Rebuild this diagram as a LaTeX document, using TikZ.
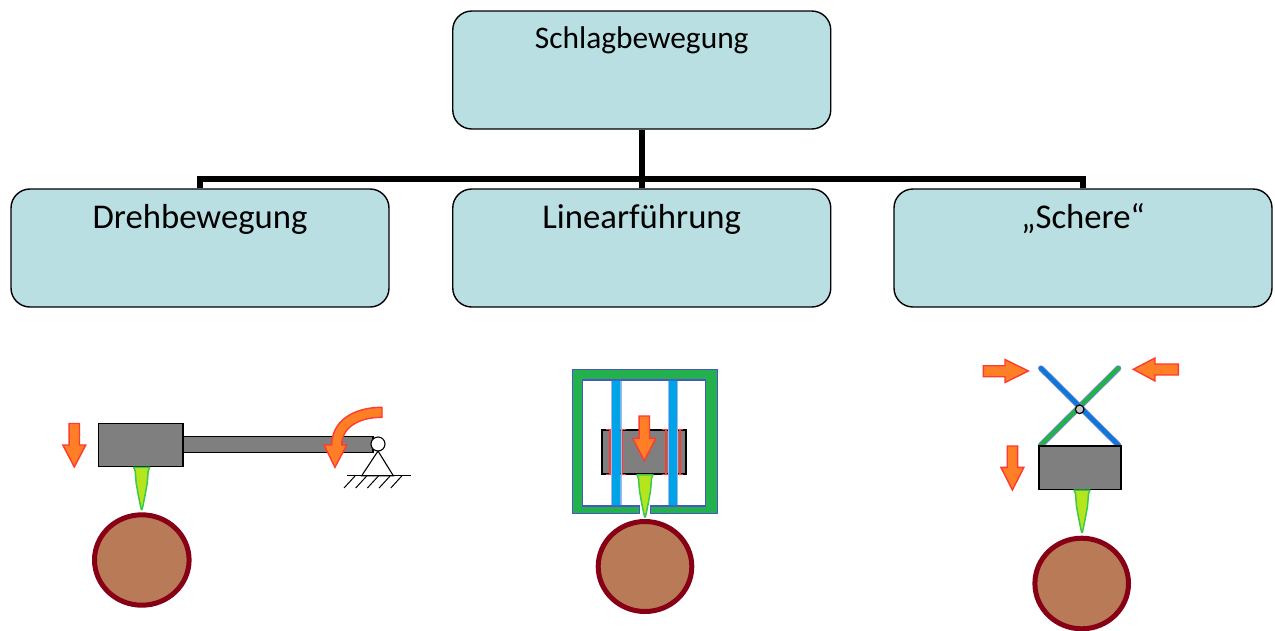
\documentclass[tikz,border=0pt]{standalone}
\usepackage{fontspec}
\setmainfont{Carlito}
\definecolor{boxfill}{HTML}{B9DFE3}
\definecolor{arrowfill}{HTML}{FF7F27}
\definecolor{arrowline}{HTML}{FF3A30}
\definecolor{blockgray}{HTML}{7F7F7F}
\definecolor{tipfill}{HTML}{B5E61D}
\definecolor{tipline}{HTML}{3CC84C}
\definecolor{logfill}{HTML}{B97A57}
\definecolor{logline}{HTML}{880015}
\definecolor{framegreen}{HTML}{22B14C}
\definecolor{frameblue}{HTML}{4A55C8}
\definecolor{rodblue}{HTML}{00A2E8}
\definecolor{armblue}{HTML}{0E78D8}
\tikzset{
  box/.style={draw=black,line width=1.4pt,fill=boxfill,rounded corners=19pt,inner sep=0pt,
    minimum width=378pt,minimum height=118pt,text width=370pt,align=center},
  toplabel/.style={box,font=\fontsize{31.4}{36}\selectfont,text height=37pt,text depth=81pt},
  rowlabel/.style={box,font=\fontsize{34.7}{40}\selectfont,text height=39.5pt,text depth=78.5pt},
  conn/.style={draw=black,line width=6pt,line join=miter},
  redarrow/.style={draw=arrowline,fill=arrowfill,line width=1.4pt,line join=miter},
  block/.style={draw=black,fill=blockgray,line width=1.4pt},
  log/.style={draw=logline,fill=logfill,line width=5pt},
  tip/.style={draw=tipline,fill=tipfill,line width=1.5pt,line join=round},
  hinge/.style={draw=black,line width=1.1pt}
}
% Tool tip hanging from a block: #1 centre x, #2 top y
\newcommand{\tooltip}[2]{%
  \draw[tip] (#1-8,#2+0.8) -- (#1+8,#2+0.8) -- (#1+6.5,#2+4.5) -- (#1+5.5,#2+17) -- (#1+3.5,#2+28)
    -- (#1+1.5,#2+38) -- (#1+0.4,#2+43) -- (#1-0.4,#2+43) -- (#1-1.5,#2+38) -- (#1-3.5,#2+28)
    -- (#1-5.5,#2+17) -- (#1-6.5,#2+4.5) -- cycle;}
% Straight downward arrow: #1 centre x, #2 tail y, #3 head base y, #4 tip y
\newcommand{\strokearrow}[4]{%
  \draw[redarrow] (#1-5.2,#2) -- (#1+5.2,#2) -- (#1+5.2,#3) -- (#1+11.5,#3) -- (#1,#4)
    -- (#1-11.5,#3) -- (#1-5.2,#3) -- cycle;}
\begin{document}
\begin{tikzpicture}[x=1pt,y=-1pt]
\useasboundingbox (0,0) rectangle (1275,630);

% Hierarchy boxes
\node[toplabel] (top) at (641.75,70) {Schlagbewegung};
\node[rowlabel] (left) at (200,248) {Drehbewegung};
\node[rowlabel] (mid) at (641.75,248) {Linearführung};
\node[rowlabel] (right) at (1083,248) {„Schere“};

% Tree connectors
\coordinate (busL) at (left.north |- 0,179);
\coordinate (busR) at (right.north |- 0,179);
\draw[conn] (top.south) -- (mid.north);
\draw[conn] (left.north) -- (busL) -- (busR) -- (right.north);

% Rotary hammer
\draw[block] (183,436.7) rectangle (373,452.7);
\draw[block] (98.5,423.5) rectangle (183,466.5);
\tooltip{141.7}{466.5}
\draw[log] (141.8,560) ellipse [x radius=47.3,y radius=45.2];
\strokearrow{74.3}{423.5}{445}{467}
\draw[hinge,fill=white] (378,451) -- (361.7,475.7) -- (393.3,475.7) -- cycle;
\draw[hinge,fill=white] (378,444) circle (7);
\draw[hinge] (347,475.7) -- (411,475.7);
\foreach \i in {0,...,4}
  \draw[line width=1pt] (355+11.7*\i,476) -- (344+11.7*\i,488);
\draw[redarrow] (382,407.3) .. controls (352,407.3) and (331.7,422) .. (331.7,445) -- (324,445)
  -- (335,467.3) -- (346.7,445) -- (341.7,445)
  .. controls (341.7,428) and (358,417.3) .. (382,417.3) -- cycle;

% Linear guide
\draw[draw=frameblue,fill=framegreen,line width=1.4pt]
  (639.3,513.3) -- (572.7,513.3) -- (572.7,369.3) -- (717.7,369.3) -- (717.7,513.3) -- (650.7,513.3)
  -- (650.7,506) -- (705.7,506) -- (705.7,380) -- (582.7,380) -- (582.7,506) -- (639.3,506) -- cycle;
\draw[block] (602,430) rectangle (686,474);
\draw[arrowline,line width=1.2pt] (606,429.6) -- (626,429.6) (606,474.4) -- (626,474.4)
  (662,429.6) -- (683,429.6) (662,474.4) -- (683,474.4)
  (610,430) -- (610,474) (622.5,430) -- (622.5,474) (666,430) -- (666,474) (680,430) -- (680,474);
\fill[rodblue] (612,380.7) rectangle (620.5,505.3) (668.5,380.7) rectangle (677,505.3);
\draw[frameblue!45,line width=1pt] (611.5,381) -- (611.5,505) (621,381) -- (621,505)
  (668,381) -- (668,505) (677.5,381) -- (677.5,505);
\tooltip{645}{474}
\draw[log] (645,566.5) ellipse [x radius=46.8,y radius=45];
\strokearrow{644.3}{416}{438.3}{460.7}

% Scissor mechanism
\draw[frameblue!70,line width=6pt,line cap=round] (1118.3,368.3) -- (1041,445);
\draw[framegreen,line width=4.4pt,line cap=round] (1118.3,368.3) -- (1041,445);
\draw[frameblue!70,line width=6pt,line cap=round] (1041,368.3) -- (1118.3,445);
\draw[armblue,line width=4.4pt,line cap=round] (1041,368.3) -- (1118.3,445);
\draw[line width=1.2pt,fill=black!22] (1079.7,409.3) circle (4.3);
\draw[block] (1039,446) rectangle (1121,489.3);
\tooltip{1082}{489.3}
\draw[log] (1081.7,583.5) ellipse [x radius=46.8,y radius=45.3];
\strokearrow{1012.4}{446}{467.3}{490}
\draw[redarrow] (983.3,365.7) -- (1005,365.7) -- (1005,359.5) -- (1028.3,371) -- (1005,382.5)
  -- (1005,376.7) -- (983.3,376.7) -- cycle;
\draw[redarrow] (1178.3,364) -- (1155,364) -- (1155,358) -- (1133.3,369.3) -- (1155,381)
  -- (1155,375) -- (1178.3,375) -- cycle;
\end{tikzpicture}
\end{document}
